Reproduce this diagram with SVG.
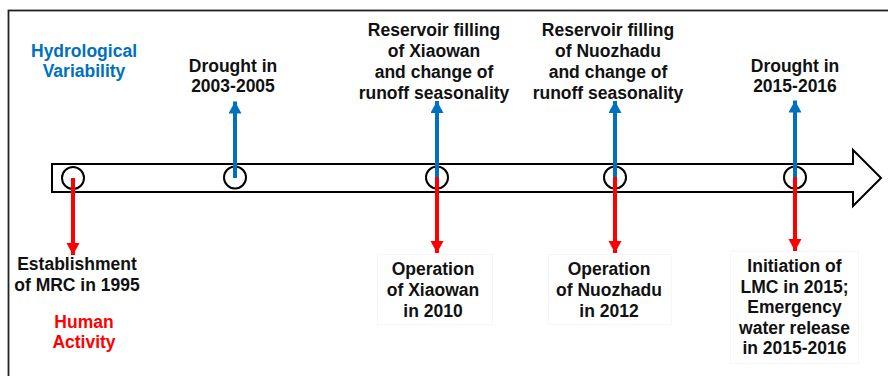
<svg xmlns="http://www.w3.org/2000/svg" width="888" height="376" viewBox="0 0 888 376">
<defs>
<style>
text{font-family:"Liberation Sans",Arial,sans-serif;font-weight:bold;font-size:17.5px;text-anchor:middle;fill:#111}
.blue{fill:#0070C0}
.red{fill:#FF0000}
.up{stroke:#0070C0;stroke-width:4;fill:none}
.down{stroke:#FF0000;stroke-width:4;fill:none}
.dot{fill:none;stroke:#000;stroke-width:2}
.tb{fill:none;stroke:#f6f6f6;stroke-width:1}
</style>
<marker id="hb" markerUnits="userSpaceOnUse" markerWidth="14" markerHeight="14" refX="12" refY="6.5" orient="auto"><path d="M0,0 L12,6.5 L0,13 Z" fill="#0070C0"/></marker>
<marker id="hr" markerUnits="userSpaceOnUse" markerWidth="14" markerHeight="14" refX="12" refY="6.5" orient="auto"><path d="M0,0 L12,6.5 L0,13 Z" fill="#FF0000"/></marker>
</defs>
<rect x="8.5" y="10.5" width="900" height="400" fill="#fff" stroke="#222" stroke-width="1.8"/>
<g id="timeline">
<polygon points="52,164 853,164 853,150 881,178 853,206 853,192 52,192" fill="#fff" stroke="#000" stroke-width="2"/>
<circle class="dot" cx="73" cy="178" r="11"/>
<circle class="dot" cx="235" cy="177.5" r="11"/>
<circle class="dot" cx="437" cy="177.5" r="11"/>
<circle class="dot" cx="615" cy="177.5" r="11"/>
<circle class="dot" cx="795" cy="177.5" r="11"/>
</g>
<g id="connectors">
<line class="down" x1="73" y1="178" x2="73" y2="255" marker-end="url(#hr)"/>
<line class="up" x1="235" y1="178" x2="235" y2="101.5" marker-end="url(#hb)"/>
<line class="up" x1="437" y1="177" x2="437" y2="101" marker-end="url(#hb)"/>
<line class="down" x1="437" y1="177" x2="437" y2="253" marker-end="url(#hr)"/>
<line class="up" x1="615" y1="177" x2="615" y2="101" marker-end="url(#hb)"/>
<line class="down" x1="615" y1="177" x2="615" y2="253" marker-end="url(#hr)"/>
<line class="up" x1="795" y1="177" x2="795" y2="100.5" marker-end="url(#hb)"/>
<line class="down" x1="795" y1="177" x2="795" y2="251" marker-end="url(#hr)"/>
</g>
<g id="legend-hydro"><text class="blue" x="84" y="57">Hydrological</text><text class="blue" x="84" y="77">Variability</text></g>
<g id="legend-human"><text class="red" x="84" y="328">Human</text><text class="red" x="84" y="348">Activity</text></g>
<g id="drought-2003"><text x="233" y="71.5">Drought in</text><text x="233" y="91.5">2003-2005</text></g>
<g id="filling-xiaowan"><text x="434" y="36">Reservoir filling</text><text x="434" y="57">of Xiaowan</text><text x="434" y="78">and change of</text><text x="434" y="99">runoff seasonality</text></g>
<g id="filling-nuozhadu"><text x="608" y="36">Reservoir filling</text><text x="608" y="57">of Nuozhadu</text><text x="608" y="78">and change of</text><text x="608" y="99">runoff seasonality</text></g>
<g id="drought-2015"><text x="795" y="71.5">Drought in</text><text x="795" y="91.5">2015-2016</text></g>
<g id="mrc"><text x="77" y="270">Establishment</text><text x="77" y="291">of MRC in 1995</text></g>
<g id="op-xiaowan"><rect class="tb" x="377.5" y="254.5" width="115" height="70"/><text x="433" y="275">Operation</text><text x="433" y="296">of Xiaowan</text><text x="433" y="317">in 2010</text></g>
<g id="op-nuozhadu"><rect class="tb" x="548.5" y="254.5" width="123" height="70"/><text x="609" y="275">Operation</text><text x="609" y="296">of Nuozhadu</text><text x="609" y="317">in 2012</text></g>
<g id="lmc"><rect class="tb" x="730.5" y="251.5" width="128" height="112"/><text x="794.5" y="272">Initiation of</text><text x="794.5" y="292.5">LMC in 2015;</text><text x="794.5" y="313">Emergency</text><text x="794.5" y="333.5">water release</text><text x="794.5" y="354">in 2015-2016</text></g>
</svg>
